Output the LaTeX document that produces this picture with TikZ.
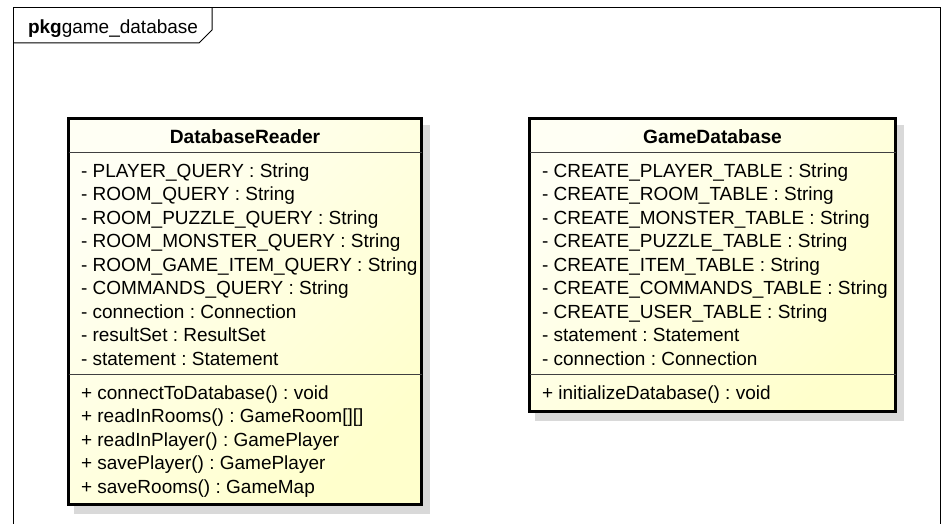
\documentclass[tikz,border=0pt]{standalone}
\usepackage{fontspec}
\setmainfont{Liberation Sans}
\frenchspacing
\definecolor{shadowgray}{RGB}{217,217,217}
\definecolor{fillA}{RGB}{255,255,244}
\definecolor{fillB}{RGB}{255,255,204}
\begin{document}
\begin{tikzpicture}[x=1pt,y=-1pt,
  every node/.style={inner sep=0pt, outer sep=0pt, font=\fontsize{19}{23}\selectfont},
  attr/.style={anchor=base west},
  classtitle/.style={anchor=base, font=\fontsize{19.2}{23}\selectfont\bfseries},
  shadowbox/.style={fill=shadowgray, draw=none, rectangle},
  classbox/.style={rectangle, draw=black, line width=3pt, top color=fillA, bottom color=fillB, shading angle=45},
  seprule/.style={line width=1pt, draw=black!75},
  frameline/.style={line width=1pt, draw=black}]
\useasboundingbox (0,0) rectangle (942,524);
\fill[white] (0,0) rectangle (942,524);

% package frame
\draw[frameline] (13,530) -- (13,8) -- (940,8) -- (940,530);
\draw[frameline] (13,43) -- (199,43) -- (212,30) -- (212,8);
\node[attr] (pkgtitle) at (28,34) {\textbf{pkg}game\_database};

% DatabaseReader
\node[shadowbox, minimum width=356pt, minimum height=389pt] (drshadow) at (252,319.5) {};
\node[classbox, minimum width=353pt, minimum height=386pt] (dr) at (245,311.5) {};
\node[classtitle] (drtitle) at (245,143) {DatabaseReader};
\draw[seprule] (68.5,152.5) -- (421.5,152.5);
\draw[seprule] (68.5,374) -- (421.5,374);
\node[attr] (dra1) at (81,177) {- PLAYER\_QUERY : String};
\node[attr] (dra2) at (81,200.5) {- ROOM\_QUERY : String};
\node[attr] (dra3) at (81,224) {- ROOM\_PUZZLE\_QUERY : String};
\node[attr] (dra4) at (81,247.5) {- ROOM\_MONSTER\_QUERY : String};
\node[attr] (dra5) at (81,271) {- ROOM\_GAME\_ITEM\_QUERY : String};
\node[attr] (dra6) at (81,294.5) {- COMMANDS\_QUERY : String};
\node[attr] (dra7) at (81,318) {- connection : Connection};
\node[attr] (dra8) at (81,341.5) {- resultSet : ResultSet};
\node[attr] (dra9) at (81,365) {- statement : Statement};
\node[attr] (drm1) at (81,399) {+ connectToDatabase() : void};
\node[attr] (drm2) at (81,422.5) {+ readInRooms() : GameRoom[][]};
\node[attr] (drm3) at (81,446) {+ readInPlayer() : GamePlayer};
\node[attr] (drm4) at (81,469.5) {+ savePlayer() : GamePlayer};
\node[attr] (drm5) at (81,493) {+ saveRooms() : GameMap};

% GameDatabase
\node[shadowbox, minimum width=369pt, minimum height=296pt] (gdshadow) at (719.5,273) {};
\node[classbox, minimum width=366pt, minimum height=293pt] (gd) at (712.5,265) {};
\node[classtitle] (gdtitle) at (712.5,143) {GameDatabase};
\draw[seprule] (529.5,152.5) -- (895.5,152.5);
\draw[seprule] (529.5,374) -- (895.5,374);
\node[attr] (gda1) at (542,177) {- CREATE\_PLAYER\_TABLE : String};
\node[attr] (gda2) at (542,200.5) {- CREATE\_ROOM\_TABLE : String};
\node[attr] (gda3) at (542,224) {- CREATE\_MONSTER\_TABLE : String};
\node[attr] (gda4) at (542,247.5) {- CREATE\_PUZZLE\_TABLE : String};
\node[attr] (gda5) at (542,271) {- CREATE\_ITEM\_TABLE : String};
\node[attr] (gda6) at (542,294.5) {- CREATE\_COMMANDS\_TABLE : String};
\node[attr] (gda7) at (542,318) {- CREATE\_USER\_TABLE : String};
\node[attr] (gda8) at (542,341.5) {- statement : Statement};
\node[attr] (gda9) at (542,365) {- connection : Connection};
\node[attr] (gdm1) at (542,399) {+ initializeDatabase() : void};
\end{tikzpicture}
\end{document}
